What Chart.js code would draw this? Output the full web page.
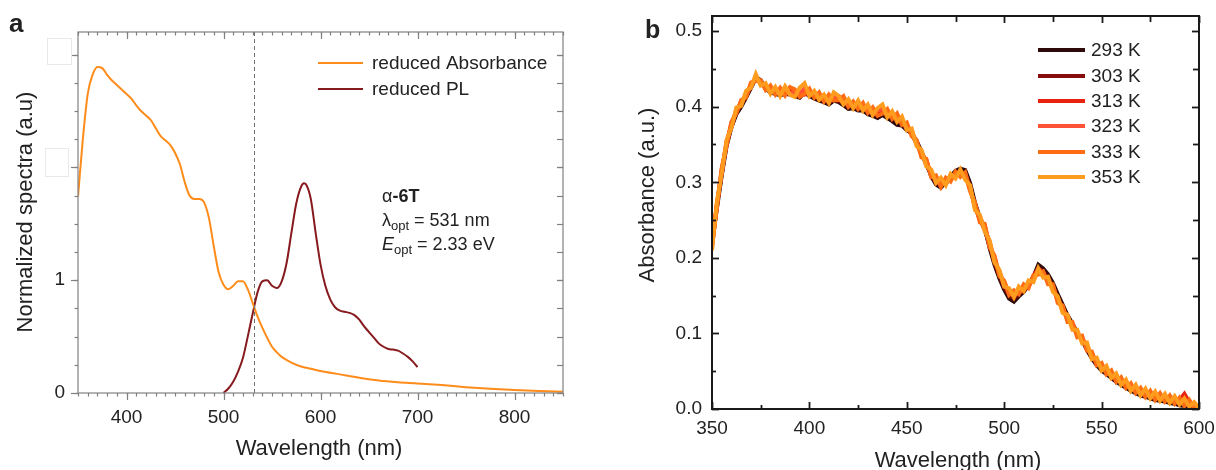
<!DOCTYPE html>
<html lang="en">
<head>
<meta charset="utf-8" />
<title>α-6T spectra</title>
<script src="https://cdn.jsdelivr.net/npm/chart.js"></script>
<style>
  html, body { margin: 0; padding: 0; background: #fff; }
  #wrap { position: relative; width: 1216px; height: 470px; overflow: hidden; }
  #chartA { position: absolute; left: 0; top: 0; }
  #chartB { position: absolute; left: 600px; top: 0; }
</style>
</head>
<body>
<div id="wrap">
  <canvas id="chartA" width="600" height="470"></canvas>
  <canvas id="chartB" width="616" height="470"></canvas>
</div>
<script>
// ---- panel a: reduced absorbance and PL ----
var absWl = [350,355,360,365,370,375,380,385,390,395,400,405,410,415,420,425,430,435,440,445,
  450,455,460,465,470,475,480,485,490,495,500,505,510,515,520,525,530,535,540,545,550,555,560,
  570,580,590,600,620,640,660,680,700,725,750,775,800,825,850];
var absVal = [1.74,2.25,2.65,2.82,2.89,2.88,2.82,2.77,2.73,2.69,2.65,2.61,2.55,2.50,2.46,2.42,2.35,2.28,2.24,2.20,
  2.13,2.03,1.87,1.75,1.72,1.72,1.69,1.55,1.30,1.07,0.96,0.92,0.95,0.99,0.99,0.92,0.80,0.68,0.58,0.49,0.41,0.36,0.32,
  0.27,0.235,0.215,0.195,0.165,0.135,0.11,0.095,0.085,0.07,0.052,0.038,0.026,0.017,0.01];
var plWl = [500,505,510,515,520,525,530,535,540,545,550,555,560,565,570,575,580,583,585,590,595,600,
  605,610,615,620,625,630,635,640,645,650,655,660,665,670,675,680,685,690,695,700];
var plVal = [0,0.04,0.10,0.19,0.31,0.50,0.70,0.89,0.99,1.00,0.95,0.93,0.99,1.15,1.42,1.68,1.83,1.86,1.85,1.72,1.42,1.14,
  0.95,0.83,0.76,0.73,0.72,0.71,0.69,0.65,0.59,0.54,0.49,0.44,0.41,0.39,0.385,0.375,0.35,0.32,0.28,0.23];
var lambdaOpt = 531;
var aXTicks = [400, 500, 600, 700, 800];
var aYTicks = [0, 1];
var aLabels = ['reduced Absorbance', 'reduced PL'];
var aColors = ['#ff8c1a', '#861a1e'];

// ---- panel b: absorbance vs temperature ----
var bWl = [350,352.5,355,357.5,360,362.5,365,367.5,370,372.5,
  375,377.5,380,382.5,385,387.5,390,392.5,395,397.5,
  400,402.5,405,407.5,410,412.5,415,417.5,420,422.5,
  425,427.5,430,432.5,435,437.5,440,442.5,445,447.5,
  450,452.5,455,457.5,460,462.5,465,467.5,470,472.5,
  475,477.5,480,482.5,485,487.5,490,492.5,495,497.5,
  500,502.5,505,507.5,510,512.5,515,517.5,520,522.5,
  525,527.5,530,532.5,535,537.5,540,542.5,545,547.5,
  550,552.5,555,557.5,560,562.5,565,567.5,570,572.5,
  575,577.5,580,582.5,585,587.5,590,592.5,595,597.5,
  600];
var abs293 = [.219,.265,.309,.348,.373,.390,.400,.412,.425,.439,
  .435,.424,.419,.417,.415,.417,.416,.414,.412,.419,
  .414,.411,.408,.406,.403,.408,.406,.402,.397,.398,
  .395,.395,.390,.388,.385,.389,.385,.381,.376,.375,
  .369,.365,.355,.341,.326,.308,.297,.293,.300,.308,
  .315,.318,.316,.299,.273,.253,.239,.213,.191,.173,
  .158,.146,.142,.149,.155,.164,.175,.191,.186,.178,
  .167,.152,.138,.124,.113,.101,.091,.078,.067,.058,
  .051,.046,.041,.036,.032,.028,.024,.021,.018,.016,
  .014,.012,.011,.010,.008,.007,.005,.004,.003,.001,
  .000];
var abs303 = [.216,.270,.311,.353,.373,.394,.402,.417,.425,.438,
  .431,.426,.420,.421,.416,.420,.417,.417,.413,.420,
  .415,.416,.409,.410,.405,.411,.407,.406,.400,.402,
  .397,.398,.393,.391,.388,.392,.388,.385,.381,.378,
  .370,.364,.351,.339,.323,.311,.299,.297,.298,.306,
  .311,.314,.311,.294,.267,.251,.237,.217,.194,.177,
  .161,.151,.146,.153,.156,.164,.172,.186,.181,.173,
  .163,.147,.135,.120,.112,.099,.092,.079,.070,.060,
  .055,.048,.045,.038,.036,.030,.028,.023,.022,.018,
  .018,.014,.015,.012,.012,.009,.009,.006,.006,.002,
  .002];
var abs313 = [.218,.269,.317,.350,.379,.393,.407,.414,.430,.436,
  .434,.424,.426,.419,.423,.418,.424,.418,.420,.416,
  .421,.414,.417,.410,.413,.409,.414,.408,.405,.404,
  .400,.402,.396,.396,.391,.393,.394,.386,.389,.378,
  .376,.364,.354,.336,.330,.309,.306,.296,.304,.303,
  .313,.310,.311,.290,.271,.250,.243,.216,.201,.178,
  .168,.153,.155,.154,.163,.162,.176,.186,.181,.169,
  .163,.143,.135,.118,.113,.098,.094,.080,.074,.060,
  .059,.049,.048,.039,.040,.031,.031,.024,.025,.019,
  .021,.015,.018,.013,.015,.010,.012,.020,.009,.004,
  .003];
var abs323 = [.213,.272,.313,.355,.374,.397,.403,.418,.427,.439,
  .430,.429,.419,.424,.418,.424,.417,.421,.416,.424,
  .416,.419,.412,.414,.407,.415,.410,.407,.406,.401,
  .404,.398,.401,.392,.395,.397,.389,.391,.384,.383,
  .372,.369,.350,.341,.324,.315,.301,.302,.299,.309,
  .308,.315,.306,.294,.266,.255,.238,.222,.196,.183,
  .164,.158,.150,.159,.158,.167,.170,.184,.176,.172,
  .158,.147,.130,.122,.108,.102,.090,.084,.069,.065,
  .054,.053,.044,.043,.035,.035,.027,.028,.021,.023,
  .017,.019,.014,.017,.011,.014,.008,.011,.005,.007,
  .002];
var abs333 = [.217,.266,.319,.349,.380,.391,.409,.412,.432,.434,
  .435,.422,.428,.416,.425,.415,.426,.423,.413,.417,
  .424,.412,.419,.407,.416,.408,.409,.414,.400,.407,
  .397,.405,.392,.399,.388,.391,.397,.384,.391,.376,
  .379,.361,.356,.333,.331,.307,.309,.294,.306,.301,
  .314,.307,.313,.288,.273,.247,.245,.214,.203,.176,
  .170,.151,.157,.152,.165,.160,.177,.178,.182,.165,
  .165,.140,.137,.115,.115,.095,.097,.077,.076,.058,
  .061,.046,.051,.036,.042,.028,.034,.021,.028,.016,
  .024,.012,.021,.010,.018,.007,.015,.004,.012,.002,
  .004];
var abs353 = [.210,.274,.312,.356,.372,.399,.401,.421,.425,.443,
  .428,.431,.417,.426,.414,.427,.416,.413,.425,.431,
  .414,.421,.409,.416,.405,.419,.414,.403,.410,.398,
  .408,.395,.403,.389,.398,.403,.386,.394,.380,.387,
  .369,.371,.348,.343,.321,.317,.299,.306,.296,.311,
  .305,.317,.303,.296,.263,.257,.235,.223,.194,.184,
  .162,.160,.148,.162,.156,.170,.168,.186,.174,.175,
  .155,.149,.127,.125,.105,.105,.087,.088,.066,.068,
  .051,.057,.041,.047,.032,.039,.024,.032,.018,.027,
  .014,.023,.011,.020,.008,.017,.006,.014,.003,.009,
  .001];
var bSeries = [abs293, abs303, abs313, abs323, abs333, abs353];
var bLabels = ['293 K', '303 K', '313 K', '323 K', '333 K', '353 K'];
var bColors = ['#2e0a0a', '#870d0d', '#e8220f', '#ff5236', '#ff6c14', '#ff9c1e'];
var bXTicks = [350, 400, 450, 500, 550, 600];
var bYTicks = [0, 0.1, 0.2, 0.3, 0.4, 0.5];

Chart.defaults.font.family = '"Liberation Sans", Arial, sans-serif';
Chart.defaults.color = '#222';

function pts(xs, ys) {
  return xs.map(function (x, i) { return { x: x, y: ys[i] }; });
}
function steps(a, b, st) {
  var out = [];
  for (var v = a; v <= b + 1e-9; v += st) out.push(Math.round(v * 1000) / 1000);
  return out;
}
function fixed(list) {
  return function (s) { s.ticks = list.map(function (v) { return { value: v }; }); };
}

// frame + tick marks drawn on all four sides
function frameAndTicks(chart, o) {
  var ctx = chart.ctx, a = chart.chartArea;
  ctx.save();
  ctx.strokeStyle = o.color;
  ctx.lineWidth = o.width;
  ctx.strokeRect(a.left, a.top, a.right - a.left, a.bottom - a.top);
  ctx.lineWidth = o.tickWidth;
  o.sides.forEach(function (s) {
    var sc = chart.scales[s.scale];
    var dir = s.inward ? 1 : -1;
    function mark(v, len) {
      if (v < sc.min - 1e-9 || v > sc.max + 1e-9) return;
      var p = Math.round(sc.getPixelForValue(v)) + 0.5;
      ctx.beginPath();
      if (s.side === 'bottom') { ctx.moveTo(p, a.bottom); ctx.lineTo(p, a.bottom - dir * len); }
      else if (s.side === 'top') { ctx.moveTo(p, a.top); ctx.lineTo(p, a.top + dir * len); }
      else if (s.side === 'left') { ctx.moveTo(a.left, p); ctx.lineTo(a.left + dir * len, p); }
      else { ctx.moveTo(a.right, p); ctx.lineTo(a.right - dir * len, p); }
      ctx.stroke();
    }
    s.minor.forEach(function (v) { mark(v, s.minorLen); });
    s.major.forEach(function (v) { mark(v, s.majorLen); });
  });
  ctx.restore();
}

// ---------- chart a ----------
var decorA = {
  id: 'decorA',
  afterDatasetsDraw: function (chart) {
    var ctx = chart.ctx, a = chart.chartArea;
    var px = chart.scales.x.getPixelForValue(lambdaOpt);
    ctx.save();
    ctx.strokeStyle = '#6f6f6f';
    ctx.lineWidth = 1;
    ctx.setLineDash([4, 3]);
    ctx.beginPath();
    ctx.moveTo(Math.round(px) + 0.5, a.top);
    ctx.lineTo(Math.round(px) + 0.5, a.bottom);
    ctx.stroke();
    ctx.restore();
  },
  afterDraw: function (chart) {
    var ctx = chart.ctx;
    frameAndTicks(chart, {
      color: '#808080', width: 1.2, tickWidth: 1.2,
      sides: [
        { scale: 'x', side: 'bottom', inward: false, major: aXTicks, minor: steps(350, 850, 10), majorLen: 7, minorLen: 3.5 },
        { scale: 'xTop', side: 'top', inward: true, major: aXTicks, minor: steps(350, 850, 10), majorLen: 7, minorLen: 3.5 },
        { scale: 'y', side: 'left', inward: false, major: [0, 1, 2, 3], minor: steps(0, 3.2, 0.25), majorLen: 7, minorLen: 3.5 },
        { scale: 'yRight', side: 'right', inward: true, major: [0, 1, 2, 3], minor: steps(0, 3.2, 0.25), majorLen: 6, minorLen: 6 }
      ]
    });
    ctx.save();
    // blank label patches over the upper y labels
    ctx.fillStyle = '#fff';
    ctx.strokeStyle = '#e9e9e9';
    ctx.lineWidth = 1;
    ctx.fillRect(47, 38, 24, 26); ctx.strokeRect(47.5, 38.5, 24, 26);
    ctx.fillRect(45, 148, 23, 28); ctx.strokeRect(45.5, 148.5, 23, 28);

    ctx.fillStyle = '#222';
    ctx.font = 'bold 26px "Liberation Sans", Arial, sans-serif';
    ctx.fillText('a', 9, 32);

    // legend
    ctx.font = '19px "Liberation Sans", Arial, sans-serif';
    ctx.textBaseline = 'middle';
    [63, 89].forEach(function (yy, i) {
      ctx.strokeStyle = aColors[i];
      ctx.lineWidth = 2;
      ctx.beginPath(); ctx.moveTo(318, yy); ctx.lineTo(363, yy); ctx.stroke();
      ctx.fillText(aLabels[i], 372, yy + 1);
    });

    // annotation
    ctx.textBaseline = 'alphabetic';
    var x0 = 382, w;
    ctx.font = '18px "Liberation Sans", Arial, sans-serif';
    ctx.fillText('α', x0, 202);
    w = ctx.measureText('α').width;
    ctx.font = 'bold 18px "Liberation Sans", Arial, sans-serif';
    ctx.fillText('-6T', x0 + w, 202);

    ctx.font = '18px "Liberation Sans", Arial, sans-serif';
    ctx.fillText('λ', x0, 226);
    w = ctx.measureText('λ').width;
    ctx.font = '13px "Liberation Sans", Arial, sans-serif';
    ctx.fillText('opt', x0 + w, 230);
    w += ctx.measureText('opt').width;
    ctx.font = '18px "Liberation Sans", Arial, sans-serif';
    ctx.fillText(' = 531 nm', x0 + w, 226);

    ctx.font = 'italic 18px "Liberation Sans", Arial, sans-serif';
    ctx.fillText('E', x0, 250);
    w = ctx.measureText('E').width;
    ctx.font = '13px "Liberation Sans", Arial, sans-serif';
    ctx.fillText('opt', x0 + w, 254);
    w += ctx.measureText('opt').width;
    ctx.font = '18px "Liberation Sans", Arial, sans-serif';
    ctx.fillText(' = 2.33 eV', x0 + w, 250);

    // axis titles
    ctx.font = '22px "Liberation Sans", Arial, sans-serif';
    ctx.textAlign = 'center';
    ctx.fillText('Wavelength (nm)', 319, 455);
    ctx.translate(32, 212);
    ctx.rotate(-Math.PI / 2);
    ctx.fillText('Normalized spectra (a.u)', 0, 0);
    ctx.restore();
  }
};

new Chart(document.getElementById('chartA'), {
  type: 'line',
  data: {
    datasets: [
      { label: aLabels[0], data: pts(absWl, absVal), borderColor: aColors[0], borderWidth: 2,
        pointRadius: 0, cubicInterpolationMode: 'monotone', xAxisID: 'x', yAxisID: 'y' },
      { label: aLabels[1], data: pts(plWl, plVal), borderColor: aColors[1], borderWidth: 2,
        pointRadius: 0, cubicInterpolationMode: 'monotone', xAxisID: 'x', yAxisID: 'y' }
    ]
  },
  options: {
    responsive: false,
    animation: false,
    layout: { padding: 0 },
    plugins: { legend: { display: false }, tooltip: { enabled: false } },
    scales: {
      x: { type: 'linear', position: 'bottom', min: 350, max: 850,
        grid: { display: false }, border: { display: false },
        afterBuildTicks: fixed(aXTicks),
        ticks: { padding: 5, font: { size: 19 }, color: '#222' },
        afterFit: function (s) { s.height = 77; } },
      xTop: { type: 'linear', position: 'top', min: 350, max: 850,
        grid: { display: false }, border: { display: false }, ticks: { display: false },
        afterFit: function (s) { s.height = 32; } },
      y: { type: 'linear', position: 'left', min: 0, max: 3.2,
        grid: { display: false }, border: { display: false },
        afterBuildTicks: fixed(aYTicks),
        ticks: { padding: 5, font: { size: 19 }, color: '#222' },
        afterFit: function (s) { s.width = 78; } },
      yRight: { type: 'linear', position: 'right', min: 0, max: 3.2,
        grid: { display: false }, border: { display: false }, ticks: { display: false },
        afterFit: function (s) { s.width = 37; } }
    }
  },
  plugins: [decorA]
});

// ---------- chart b ----------
var legendRowsB = [50, 76, 101, 126, 152, 177];
var decorB = {
  id: 'decorB',
  afterDraw: function (chart) {
    var ctx = chart.ctx;
    frameAndTicks(chart, {
      color: '#1a1a1a', width: 2, tickWidth: 1.8,
      sides: [
        { scale: 'x', side: 'bottom', inward: true, major: bXTicks, minor: steps(375, 575, 50), majorLen: 7, minorLen: 4 },
        { scale: 'xTop', side: 'top', inward: true, major: bXTicks, minor: steps(375, 575, 50), majorLen: 7, minorLen: 6 },
        { scale: 'y', side: 'left', inward: true, major: bYTicks, minor: steps(0.05, 0.45, 0.1), majorLen: 7, minorLen: 4 },
        { scale: 'yRight', side: 'right', inward: true, major: bYTicks, minor: steps(0.05, 0.45, 0.1), majorLen: 7, minorLen: 6 }
      ]
    });
    ctx.save();
    ctx.fillStyle = '#222';
    ctx.font = 'bold 25px "Liberation Sans", Arial, sans-serif';
    ctx.fillText('b', 45, 38);

    ctx.font = '19px "Liberation Sans", Arial, sans-serif';
    ctx.textBaseline = 'middle';
    legendRowsB.forEach(function (yy, i) {
      ctx.strokeStyle = bColors[i];
      ctx.lineWidth = 4;
      ctx.beginPath(); ctx.moveTo(438, yy); ctx.lineTo(485, yy); ctx.stroke();
      ctx.fillText(bLabels[i], 491, yy + 1);
    });

    ctx.textBaseline = 'alphabetic';
    ctx.font = '22px "Liberation Sans", Arial, sans-serif';
    ctx.textAlign = 'center';
    ctx.fillText('Wavelength (nm)', 358, 467);
    ctx.translate(54, 195);
    ctx.rotate(-Math.PI / 2);
    ctx.fillText('Absorbance (a.u.)', 0, 0);
    ctx.restore();
  }
};

new Chart(document.getElementById('chartB'), {
  type: 'line',
  data: {
    datasets: bSeries.map(function (ys, i) {
      return { label: bLabels[i], data: pts(bWl, ys), borderColor: bColors[i], borderWidth: 4,
        pointRadius: 0, tension: 0, order: bSeries.length - 1 - i, xAxisID: 'x', yAxisID: 'y' };
    })
  },
  options: {
    responsive: false,
    animation: false,
    layout: { padding: 0 },
    plugins: { legend: { display: false }, tooltip: { enabled: false } },
    scales: {
      x: { type: 'linear', position: 'bottom', min: 350, max: 600,
        grid: { display: false }, border: { display: false },
        afterBuildTicks: fixed(bXTicks),
        ticks: { padding: 0, font: { size: 19 }, color: '#222' },
        afterFit: function (s) { s.height = 61; } },
      xTop: { type: 'linear', position: 'top', min: 350, max: 600,
        grid: { display: false }, border: { display: false }, ticks: { display: false },
        afterFit: function (s) { s.height = 16; } },
      y: { type: 'linear', position: 'left', min: 0, max: 0.52,
        grid: { display: false }, border: { display: false },
        afterBuildTicks: fixed(bYTicks),
        ticks: { padding: 2, font: { size: 19 }, color: '#222',
          callback: function (v) { return v.toFixed(1); } },
        afterFit: function (s) { s.width = 112; } },
      yRight: { type: 'linear', position: 'right', min: 0, max: 0.52,
        grid: { display: false }, border: { display: false }, ticks: { display: false },
        afterFit: function (s) { s.width = 17; } }
    }
  },
  plugins: [decorB]
});
</script>
</body>
</html>
